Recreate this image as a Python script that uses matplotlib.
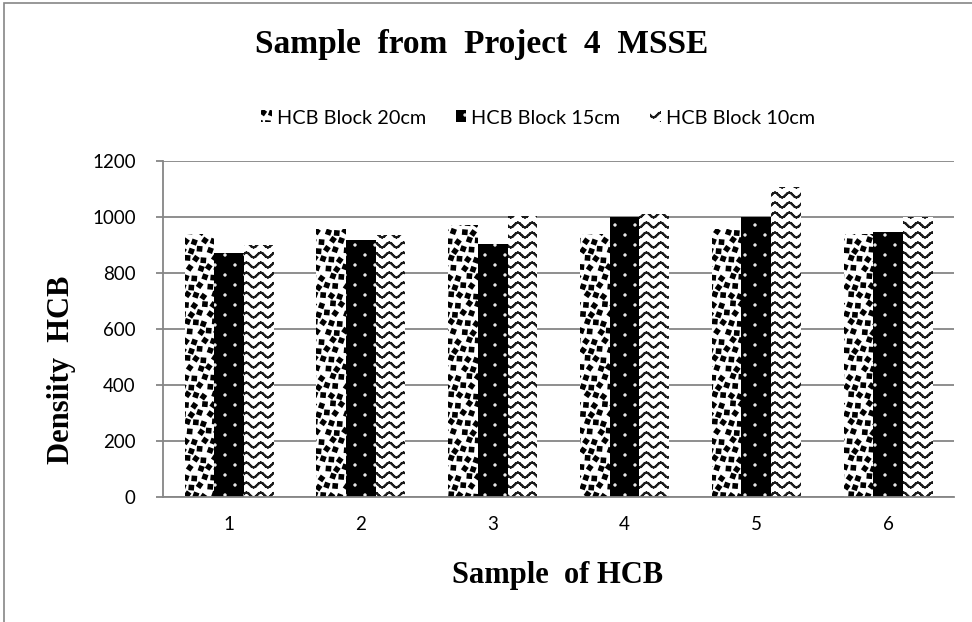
import warnings
import numpy as np
import matplotlib
matplotlib.use("Agg")
import matplotlib.pyplot as plt
import matplotlib.hatch as mhatch
from matplotlib.path import Path
from matplotlib.patches import Rectangle

warnings.filterwarnings("ignore")

# data
samples = ["1", "2", "3", "4", "5", "6"]
block_20cm = [938, 957, 973, 939, 957, 938]
block_15cm = [872, 916, 902, 1001, 1001, 945]
block_10cm = [900, 935, 1002, 1009, 1108, 1001]
series_names = ["HCB Block 20cm", "HCB Block 15cm", "HCB Block 10cm"]
yticks = [0, 200, 400, 600, 800, 1000, 1200]


# custom hatch patterns to mimic the excel pattern fills
class WaveHatch(mhatch.HatchPatternBase):
    # '~' -> wavy lines
    def __init__(self, hatch, density):
        self.rows = hatch.count('~') * 10
        self.seg = 56
        self.num_vertices = self.rows * self.seg * 2

    def set_vertices_and_codes(self, vertices, codes):
        xs = np.linspace(0, 1, self.seg + 1)
        parts = []
        for r in range(self.rows):
            y0 = (r + 0.5) / self.rows
            ys = y0 + 0.024 * np.sin(2 * np.pi * 7 * xs)
            pts = np.column_stack([xs, ys])
            parts.append(np.stack([pts[:-1], pts[1:]], axis=1).reshape(-1, 2))
        vertices[:] = np.concatenate(parts)
        codes[0::2] = Path.MOVETO
        codes[1::2] = Path.LINETO


class ConfettiHatch(mhatch.HatchPatternBase):
    # 'q' -> small black squares on a staggered grid, slightly shuffled
    def __init__(self, hatch, density):
        self.shapes = []
        if hatch.count('q'):
            n = 11
            for i in range(n):
                for j in range(n):
                    dx = ((i * 7 + j * 3) % 4 - 1.5) * 0.008
                    dy = ((i * 3 + j * 5) % 4 - 1.5) * 0.008
                    ang = np.deg2rad(10 + ((i + 2 * j) % 3) * 15)
                    cx = (i + 0.5 + 0.5 * (j % 2)) / n + dx
                    cy = (j + 0.5) / n + dy
                    for sx in (-1, 0, 1):
                        for sy in (-1, 0, 1):
                            self.shapes.append((cx + sx, cy + sy, ang))
        self.num_vertices = len(self.shapes) * 5

    def set_vertices_and_codes(self, vertices, codes):
        base = np.deg2rad(np.array([0, 90, 180, 270, 0]))
        parts = []
        for cx, cy, ang in self.shapes:
            parts.append(np.column_stack([cx + 0.025 * np.cos(base + ang),
                                          cy + 0.025 * np.sin(base + ang)]))
        vertices[:] = np.concatenate(parts)
        cc = np.array([Path.MOVETO, Path.LINETO, Path.LINETO, Path.LINETO,
                       Path.CLOSEPOLY], dtype=Path.code_type)
        codes[:] = np.tile(cc, len(self.shapes))


class DotHatch(mhatch.HatchPatternBase):
    # 'd' -> sparse small dots
    def __init__(self, hatch, density):
        circ = Path.unit_circle()
        self.cv = circ.vertices
        self.cc = circ.codes
        self.pos = []
        if hatch.count('d'):
            for r in range(10):
                for c in range(5):
                    self.pos.append(((c + 0.5 * (r % 2) + 0.25) / 5, (r + 0.5) / 10))
        self.num_vertices = len(self.pos) * len(self.cv)

    def set_vertices_and_codes(self, vertices, codes):
        vertices[:] = np.concatenate([self.cv * 0.006 + p for p in self.pos])
        codes[:] = np.tile(self.cc, len(self.pos))


mhatch._hatch_types.extend([WaveHatch, ConfettiHatch, DotHatch])
plt.rcParams['hatch.linewidth'] = 1.5

grey = '#868686'
sans = ['Lato', 'DejaVu Sans']
serif = ['Liberation Serif', 'DejaVu Serif']

fig = plt.figure(figsize=(9.72, 6.22), dpi=100)
ax = fig.add_axes([163.3 / 972, 1 - 496.7 / 622, (954 - 163.3) / 972, (496.7 - 161) / 622])

x = np.arange(len(samples))
w = 0.225
ax.bar(x - w, block_20cm, w, facecolor='white', edgecolor='black', hatch='q',
       linewidth=0, label=series_names[0])
ax.bar(x, block_15cm, w, facecolor='black', edgecolor='white', hatch='d',
       linewidth=0, label=series_names[1])
ax.bar(x + w, block_10cm, w, facecolor='white', edgecolor='#1a1a1a', hatch='~',
       linewidth=0, label=series_names[2])

ax.set_xlim(-0.5, len(samples) - 0.5)
ax.set_ylim(0, 1200)
ax.set_yticks(yticks)
ax.set_xticks(x)
ax.set_xticklabels(samples)
ax.yaxis.grid(True, color=grey, linewidth=1.3)
ax.set_axisbelow(True)
for s in ['top', 'right']:
    ax.spines[s].set_visible(False)
for s in ['left', 'bottom']:
    ax.spines[s].set_color(grey)
    ax.spines[s].set_linewidth(1.3)
ax.tick_params(axis='y', length=4.8, width=1.3, color=grey, pad=15, labelsize=13.5)
ax.tick_params(axis='x', length=0, pad=14, labelsize=13.5)
for lab in ax.get_xticklabels() + ax.get_yticklabels():
    lab.set_family(sans)

# axis titles placed in pixels of the 972x622 canvas
fig.text(558 / 972, 1 - 575 / 622, "Sample  of HCB", family=serif, fontweight='bold',
         fontsize=22, ha='center', va='center')
fig.text(62 / 972, 1 - 370 / 622, "Densiity  HCB", family=serif, fontweight='bold',
         fontsize=22, ha='center', va='center', rotation=90)

fig.text(482 / 972, 1 - 45 / 622, "Sample  from  Project  4  MSSE", family=serif,
         fontweight='bold', fontsize=24, ha='center', va='center')

fig.legend(loc='center', bbox_to_anchor=(538 / 972, 1 - 118 / 622), ncol=3,
           frameon=False, prop={'family': sans, 'size': 14.3},
           handlelength=0.55, handleheight=0.55, handletextpad=0.25, columnspacing=1.5)

fig.add_artist(Rectangle((4 / 972, -0.1), 1.2, 1.1 - 3 / 622, transform=fig.transFigure,
                         fill=False, edgecolor=grey, linewidth=1.2))

fig.savefig("out.png", dpi=100)
